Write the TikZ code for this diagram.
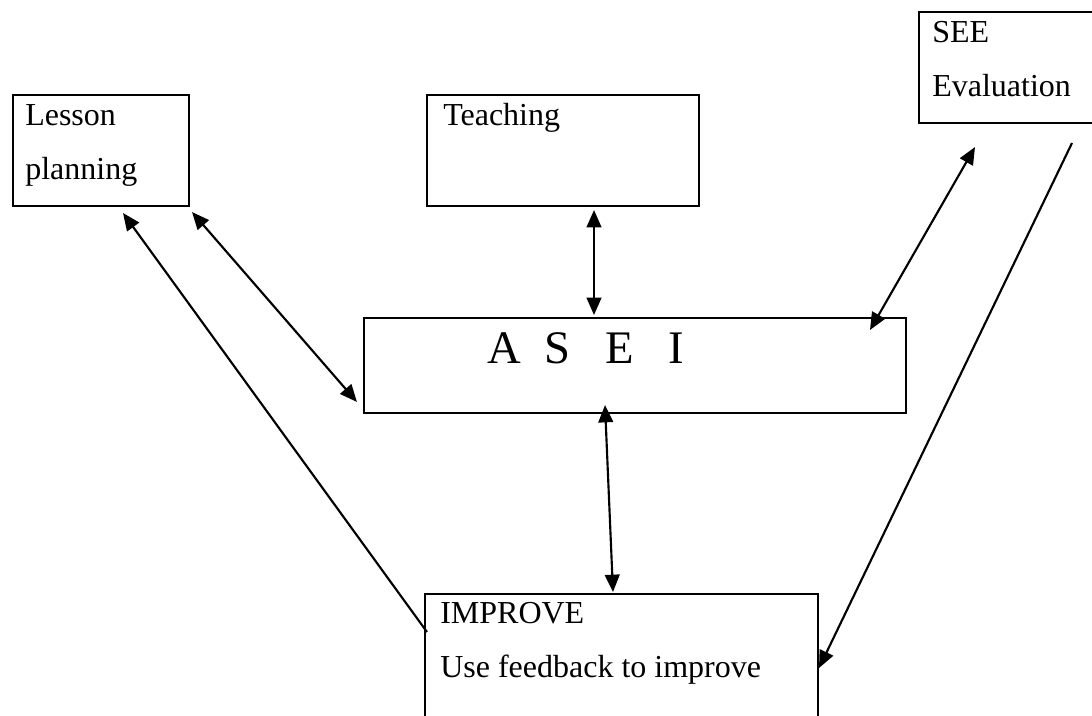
\documentclass[tikz,border=0pt]{standalone}
\usepackage{fontspec}
\setmainfont{Liberation Serif}
\usetikzlibrary{arrows.meta,calc}
\begin{document}
\begin{tikzpicture}[x=0.75pt,y=-0.75pt,label distance=0pt,
		box/.style={draw,line width=1.7pt,anchor=north west,outer sep=0,inner sep=0},
		boxtext/.style={anchor=north west,inner xsep=10.5pt,inner ysep=0,align=left,
			font=\fontsize{24}{40.5}\selectfont},
		twoway/.style={line width=1.6pt,{Triangle[length=13pt,width=11pt]}-{Triangle[length=13pt,width=11pt]}},
		oneway/.style={line width=1.6pt,-{Triangle[length=13pt,width=11pt]}}]
		\useasboundingbox (0,0) rectangle (1092,715);
		\clip (0,0) rectangle (1092,715);
		\node[box,minimum width=132pt,minimum height=83.25pt,
			label={[boxtext,inner xsep=9pt]north west:{\rule{0pt}{22.5pt}Lesson\\planning}}] (lesson) at (13,95) {};
		\node[box,minimum width=204pt,minimum height=83.25pt,
			label={[boxtext,inner xsep=12pt]north west:{\rule{0pt}{22.5pt}Teaching}}] (teaching) at (427,95) {};
		\node[box,minimum width=135pt,minimum height=83.25pt,
			label={[boxtext,inner xsep=9.75pt]north west:{\rule{0pt}{22.5pt}SEE\\Evaluation}}] (see) at (919,12) {};
		\node[box,minimum width=406.5pt,minimum height=71.25pt,
			label={[boxtext,inner xsep=92.25pt,font=\fontsize{35}{40}\selectfont]north west:{\rule{0pt}{33.75pt}A\ \ S\ \ \ E\ \ \ I}}] (asei) at (364,318) {};
		\node[box,minimum width=294.75pt,minimum height=112.5pt,
			label={[boxtext,inner xsep=11.25pt]north west:{\rule{0pt}{22pt}IMPROVE\\Use feedback to improve}}] (improve) at (425,594) {};
		\draw[twoway] ($(lesson.south east)+(3,6)$) -- ($(asei.south west)+(-7,-11)$);
		\draw[oneway] ($(improve.north west)+(2,38)$) -- ($(lesson.south west)+(110,7)$);
		\draw[twoway] ($(teaching.south west)+(167,4)$) -- ($(asei.north west)+(230,-3)$);
		\draw[twoway] ($(see.south west)+(56,24)$) -- ($(asei.north east)+(-36,12)$);
		\draw[oneway] ($(see.south west)+(153,20)$) -- ($(improve.north east)+(1,74)$);
		\draw[twoway] ($(asei.south west)+(241,-8)$) -- ($(improve.north west)+(188,-2)$);
\end{tikzpicture}
\end{document}
